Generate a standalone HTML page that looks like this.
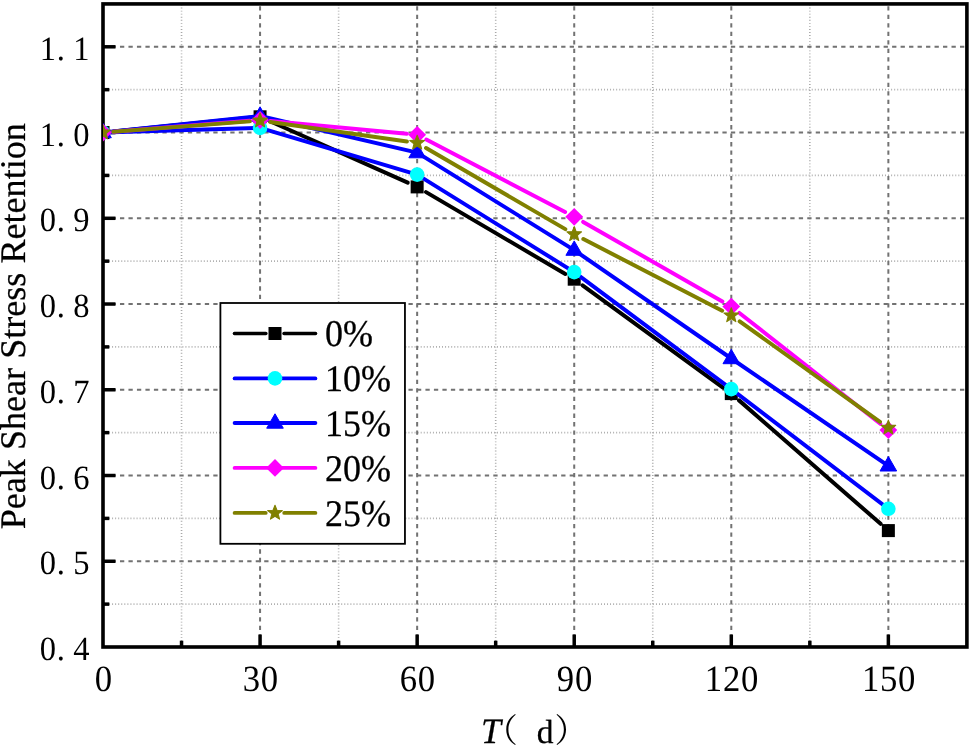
<!DOCTYPE html>
<html lang="en"><head><meta charset="utf-8"><title>Peak Shear Stress Retention</title>
<style>html,body{margin:0;padding:0;background:#fff}svg{display:block}text{text-rendering:geometricPrecision}.tk{font-family:"Liberation Serif","Noto Serif CJK SC",serif;fill:#000}.lg{font-family:"Liberation Serif",serif;font-size:36px;fill:#000;stroke:#000;stroke-width:0.25px}.ti{font-family:"Liberation Serif",serif;font-size:36px;fill:#000;stroke:#000;stroke-width:0.25px}</style></head><body>
<svg width="969" height="745" viewBox="0 0 969 745">
<rect width="969" height="745" fill="#fff"/>
<defs><clipPath id="plot"><rect x="103.0" y="3.93" width="868.9" height="643.07"/></clipPath></defs>
<g stroke="#a8a8a8" stroke-width="1.6" stroke-dasharray="0.9 2.155" fill="none">
<line x1="181.54" y1="647.0" x2="181.54" y2="3.93"/>
<line x1="338.61" y1="647.0" x2="338.61" y2="3.93"/>
<line x1="495.68" y1="647.0" x2="495.68" y2="3.93"/>
<line x1="652.75" y1="647.0" x2="652.75" y2="3.93"/>
<line x1="809.83" y1="647.0" x2="809.83" y2="3.93"/>
<line x1="103.0" y1="604.13" x2="966.9" y2="604.13"/>
<line x1="103.0" y1="518.39" x2="966.9" y2="518.39"/>
<line x1="103.0" y1="432.64" x2="966.9" y2="432.64"/>
<line x1="103.0" y1="346.90" x2="966.9" y2="346.90"/>
<line x1="103.0" y1="261.16" x2="966.9" y2="261.16"/>
<line x1="103.0" y1="175.42" x2="966.9" y2="175.42"/>
<line x1="103.0" y1="89.67" x2="966.9" y2="89.67"/>
</g>
<g stroke="#727272" stroke-width="2.0" stroke-dasharray="4.3 4.185" fill="none">
<line x1="260.07" y1="647.0" x2="260.07" y2="3.93"/>
<line x1="417.15" y1="647.0" x2="417.15" y2="3.93"/>
<line x1="574.22" y1="647.0" x2="574.22" y2="3.93"/>
<line x1="731.29" y1="647.0" x2="731.29" y2="3.93"/>
<line x1="888.36" y1="647.0" x2="888.36" y2="3.93"/>
<line x1="103.0" y1="561.26" x2="966.9" y2="561.26"/>
<line x1="103.0" y1="475.51" x2="966.9" y2="475.51"/>
<line x1="103.0" y1="389.77" x2="966.9" y2="389.77"/>
<line x1="103.0" y1="304.03" x2="966.9" y2="304.03"/>
<line x1="103.0" y1="218.29" x2="966.9" y2="218.29"/>
<line x1="103.0" y1="132.54" x2="966.9" y2="132.54"/>
<line x1="103.0" y1="46.80" x2="966.9" y2="46.80"/>
</g>
<rect x="103.0" y="3.93" width="863.9" height="643.07" fill="none" stroke="#000" stroke-width="3.6"/>
<g stroke="#000" stroke-width="3.5" fill="none">
<line x1="260.07" y1="647.0" x2="260.07" y2="634.5"/>
<line x1="417.15" y1="647.0" x2="417.15" y2="634.5"/>
<line x1="574.22" y1="647.0" x2="574.22" y2="634.5"/>
<line x1="731.29" y1="647.0" x2="731.29" y2="634.5"/>
<line x1="888.36" y1="647.0" x2="888.36" y2="634.5"/>
<line x1="181.54" y1="647.0" x2="181.54" y2="640.7"/>
<line x1="338.61" y1="647.0" x2="338.61" y2="640.7"/>
<line x1="495.68" y1="647.0" x2="495.68" y2="640.7"/>
<line x1="652.75" y1="647.0" x2="652.75" y2="640.7"/>
<line x1="809.83" y1="647.0" x2="809.83" y2="640.7"/>
<line x1="103.0" y1="561.26" x2="115.5" y2="561.26"/>
<line x1="103.0" y1="475.51" x2="115.5" y2="475.51"/>
<line x1="103.0" y1="389.77" x2="115.5" y2="389.77"/>
<line x1="103.0" y1="304.03" x2="115.5" y2="304.03"/>
<line x1="103.0" y1="218.29" x2="115.5" y2="218.29"/>
<line x1="103.0" y1="132.54" x2="115.5" y2="132.54"/>
<line x1="103.0" y1="46.80" x2="115.5" y2="46.80"/>
<line x1="103.0" y1="604.13" x2="109.3" y2="604.13"/>
<line x1="103.0" y1="518.39" x2="109.3" y2="518.39"/>
<line x1="103.0" y1="432.64" x2="109.3" y2="432.64"/>
<line x1="103.0" y1="346.90" x2="109.3" y2="346.90"/>
<line x1="103.0" y1="261.16" x2="109.3" y2="261.16"/>
<line x1="103.0" y1="175.42" x2="109.3" y2="175.42"/>
<line x1="103.0" y1="89.67" x2="109.3" y2="89.67"/>
</g>
<g clip-path="url(#plot)">
<g stroke="#000000" stroke-width="4.0" stroke-linecap="round" stroke-linejoin="round" fill="none">
<line x1="113.25" y1="131.52" x2="249.82" y2="117.83"/>
<line x1="269.48" y1="121.00" x2="407.74" y2="182.70"/>
<line x1="426.03" y1="192.12" x2="565.34" y2="273.98"/>
<line x1="582.54" y1="285.26" x2="722.97" y2="387.54"/>
<line x1="739.05" y1="400.37" x2="880.60" y2="523.83"/>
</g>
<rect x="96.50" y="126.05" width="13.0" height="13.0" fill="#000000"/>
<rect x="253.57" y="110.30" width="13.0" height="13.0" fill="#000000"/>
<rect x="410.65" y="180.40" width="13.0" height="13.0" fill="#000000"/>
<rect x="567.72" y="272.70" width="13.0" height="13.0" fill="#000000"/>
<rect x="724.79" y="387.10" width="13.0" height="13.0" fill="#000000"/>
<rect x="881.86" y="524.10" width="13.0" height="13.0" fill="#000000"/>
<g stroke="#0000ff" stroke-width="4.0" stroke-linecap="round" stroke-linejoin="round" fill="none">
<polyline points="103.00,132.55 260.07,127.90 417.15,174.60 574.22,272.10 731.29,389.10 888.36,508.80"/>
</g>
<circle cx="103.00" cy="132.55" r="7.3" fill="#00ffff"/>
<circle cx="260.07" cy="127.90" r="7.3" fill="#00ffff"/>
<circle cx="417.15" cy="174.60" r="7.3" fill="#00ffff"/>
<circle cx="574.22" cy="272.10" r="7.3" fill="#00ffff"/>
<circle cx="731.29" cy="389.10" r="7.3" fill="#00ffff"/>
<circle cx="888.36" cy="508.80" r="7.3" fill="#00ffff"/>
<g stroke="#0000ff" stroke-width="4.0" stroke-linecap="round" stroke-linejoin="round" fill="none">
<polyline points="103.00,132.55 260.07,116.00 417.15,152.60 574.22,250.10 731.29,358.50 888.36,465.80"/>
</g>
<polygon points="103.00,123.35 111.30,137.75 94.70,137.75" fill="#0000ff" stroke="#0000ff" stroke-width="1" stroke-linejoin="round"/>
<polygon points="260.07,106.80 268.37,121.20 251.77,121.20" fill="#0000ff" stroke="#0000ff" stroke-width="1" stroke-linejoin="round"/>
<polygon points="417.15,143.40 425.45,157.80 408.85,157.80" fill="#0000ff" stroke="#0000ff" stroke-width="1" stroke-linejoin="round"/>
<polygon points="574.22,240.90 582.52,255.30 565.92,255.30" fill="#0000ff" stroke="#0000ff" stroke-width="1" stroke-linejoin="round"/>
<polygon points="731.29,349.30 739.59,363.70 722.99,363.70" fill="#0000ff" stroke="#0000ff" stroke-width="1" stroke-linejoin="round"/>
<polygon points="888.36,456.60 896.66,471.00 880.06,471.00" fill="#0000ff" stroke="#0000ff" stroke-width="1" stroke-linejoin="round"/>
<g stroke="#ff00ff" stroke-width="4.0" stroke-linecap="round" stroke-linejoin="round" fill="none">
<line x1="113.27" y1="131.73" x2="249.81" y2="120.82"/>
<line x1="270.33" y1="120.97" x2="406.89" y2="133.83"/>
<line x1="426.28" y1="139.57" x2="565.09" y2="212.03"/>
<line x1="583.16" y1="221.91" x2="722.35" y2="301.49"/>
<line x1="739.39" y1="312.97" x2="880.27" y2="423.73"/>
</g>
<polygon points="103.00,123.65 111.90,132.55 103.00,141.45 94.10,132.55" fill="#ff00ff"/>
<polygon points="260.07,111.10 268.97,120.00 260.07,128.90 251.17,120.00" fill="#ff00ff"/>
<polygon points="417.15,125.90 426.05,134.80 417.15,143.70 408.25,134.80" fill="#ff00ff"/>
<polygon points="574.22,207.90 583.12,216.80 574.22,225.70 565.32,216.80" fill="#ff00ff"/>
<polygon points="731.29,297.70 740.19,306.60 731.29,315.50 722.39,306.60" fill="#ff00ff"/>
<polygon points="888.36,421.20 897.26,430.10 888.36,439.00 879.46,430.10" fill="#ff00ff"/>
<g stroke="#808000" stroke-width="4.0" stroke-linecap="round" stroke-linejoin="round" fill="none">
<line x1="113.27" y1="131.77" x2="249.80" y2="121.38"/>
<line x1="270.27" y1="122.04" x2="406.95" y2="141.41"/>
<line x1="426.05" y1="148.03" x2="565.32" y2="229.12"/>
<line x1="583.37" y1="239.03" x2="722.14" y2="310.67"/>
<line x1="739.67" y1="321.39" x2="879.99" y2="421.81"/>
</g>
<polygon points="103.00,124.85 104.95,129.87 110.32,130.17 106.15,133.57 107.53,138.78 103.00,135.86 98.47,138.78 99.85,133.57 95.68,130.17 101.05,129.87" fill="#808000" stroke="#808000" stroke-width="1.1" stroke-linejoin="round"/>
<polygon points="260.07,112.90 262.02,117.92 267.40,118.22 263.22,121.62 264.60,126.83 260.07,123.91 255.55,126.83 256.92,121.62 252.75,118.22 258.13,117.92" fill="#808000" stroke="#808000" stroke-width="1.1" stroke-linejoin="round"/>
<polygon points="417.15,135.15 419.09,140.17 424.47,140.47 420.29,143.87 421.67,149.08 417.15,146.16 412.62,149.08 414.00,143.87 409.82,140.47 415.20,140.17" fill="#808000" stroke="#808000" stroke-width="1.1" stroke-linejoin="round"/>
<polygon points="574.22,226.60 576.16,231.62 581.54,231.92 577.37,235.32 578.74,240.53 574.22,237.61 569.69,240.53 571.07,235.32 566.90,231.92 572.27,231.62" fill="#808000" stroke="#808000" stroke-width="1.1" stroke-linejoin="round"/>
<polygon points="731.29,307.70 733.24,312.72 738.61,313.02 734.44,316.42 735.82,321.63 731.29,318.71 726.76,321.63 728.14,316.42 723.97,313.02 729.34,312.72" fill="#808000" stroke="#808000" stroke-width="1.1" stroke-linejoin="round"/>
<polygon points="888.36,420.10 890.31,425.12 895.69,425.42 891.51,428.82 892.89,434.03 888.36,431.11 883.84,434.03 885.21,428.82 881.04,425.42 886.42,425.12" fill="#808000" stroke="#808000" stroke-width="1.1" stroke-linejoin="round"/>
</g>
<rect x="220.4" y="303.0" width="184.54999999999998" height="240.79999999999995" fill="#fff" stroke="#000" stroke-width="1.8"/>
<g stroke="#000000" stroke-width="3.4" stroke-linecap="round" fill="none">
<line x1="234.40" y1="333.5" x2="265.90" y2="333.5"/><line x1="284.00" y1="333.5" x2="315.60" y2="333.5"/></g>
<rect x="268.50" y="327.00" width="13.0" height="13.0" fill="#000000"/>
<text class="lg" transform="translate(325.1,346.2) scale(1,1.045)">0%</text>
<g stroke="#0000ff" stroke-width="3.9" stroke-linecap="round" fill="none">
<line x1="234.65" y1="378.4" x2="315.35" y2="378.4"/></g>
<circle cx="275.00" cy="378.40" r="7.3" fill="#00ffff"/>
<text class="lg" transform="translate(325.1,391.1) scale(1,1.045)">10%</text>
<g stroke="#0000ff" stroke-width="3.9" stroke-linecap="round" fill="none">
<line x1="234.65" y1="423.0" x2="315.35" y2="423.0"/></g>
<polygon points="275.00,413.80 283.30,428.20 266.70,428.20" fill="#0000ff" stroke="#0000ff" stroke-width="1" stroke-linejoin="round"/>
<text class="lg" transform="translate(325.1,435.7) scale(1,1.045)">15%</text>
<g stroke="#ff00ff" stroke-width="3.9" stroke-linecap="round" fill="none">
<line x1="234.65" y1="467.9" x2="315.35" y2="467.9"/></g>
<polygon points="275.00,459.00 283.90,467.90 275.00,476.80 266.10,467.90" fill="#ff00ff"/>
<text class="lg" transform="translate(325.1,480.6) scale(1,1.045)">20%</text>
<g stroke="#808000" stroke-width="3.9" stroke-linecap="round" fill="none">
<line x1="234.65" y1="512.9" x2="265.65" y2="512.9"/><line x1="284.25" y1="512.9" x2="315.35" y2="512.9"/></g>
<polygon points="275.00,505.20 276.95,510.22 282.32,510.52 278.15,513.92 279.53,519.13 275.00,516.21 270.47,519.13 271.85,513.92 267.68,510.52 273.05,510.22" fill="#808000" stroke="#808000" stroke-width="1.1" stroke-linejoin="round"/>
<text class="lg" transform="translate(325.1,525.6) scale(1,1.045)">25%</text>
<text class="tk" font-size="34.0" transform="scale(0.957,1)" x="41.66 59.28 76.66" y="660.0">0.4</text>
<text class="tk" font-size="34.0" transform="scale(0.957,1)" x="41.66 59.28 76.66" y="574.3">0.5</text>
<text class="tk" font-size="34.0" transform="scale(0.957,1)" x="41.66 59.28 76.66" y="488.5">0.6</text>
<text class="tk" font-size="34.0" transform="scale(0.957,1)" x="41.66 59.28 76.66" y="402.8">0.7</text>
<text class="tk" font-size="34.0" transform="scale(0.957,1)" x="41.66 59.28 76.66" y="317.0">0.8</text>
<text class="tk" font-size="34.0" transform="scale(0.957,1)" x="41.66 59.28 76.66" y="231.3">0.9</text>
<text class="tk" font-size="34.0" transform="scale(0.957,1)" x="41.66 59.28 76.66" y="145.5">1.0</text>
<text class="tk" font-size="34.0" transform="scale(0.957,1)" x="41.66 59.28 76.66" y="59.8">1.1</text>
<text class="tk" font-size="37.0" transform="scale(0.937,1)" x="101.00" y="691.3">0</text>
<text class="tk" font-size="37.0" transform="scale(0.937,1)" x="258.97 278.29" y="691.3">30</text>
<text class="tk" font-size="37.0" transform="scale(0.937,1)" x="426.60 445.92" y="691.3">60</text>
<text class="tk" font-size="37.0" transform="scale(0.937,1)" x="594.24 613.55" y="691.3">90</text>
<text class="tk" font-size="37.0" transform="scale(0.937,1)" x="752.21 771.53 790.85" y="691.3">120</text>
<text class="tk" font-size="37.0" transform="scale(0.937,1)" x="919.85 939.16 958.48" y="691.3">150</text>
<text class="ti" transform="translate(25.1,529.3) rotate(-90) scale(1.003,1)">Peak Shear Stress Retention</text>
<text class="ti" y="742.6"><tspan x="481.0" font-style="italic" font-size="35.8">T</tspan><tspan x="536.8" font-size="33.5">d</tspan></text>
<text y="741.6" style="font-family:'Noto Serif CJK SC',serif;font-size:33px;fill:#000"><tspan x="484.8">（</tspan><tspan x="554.5">）</tspan></text>
</svg></body></html>
